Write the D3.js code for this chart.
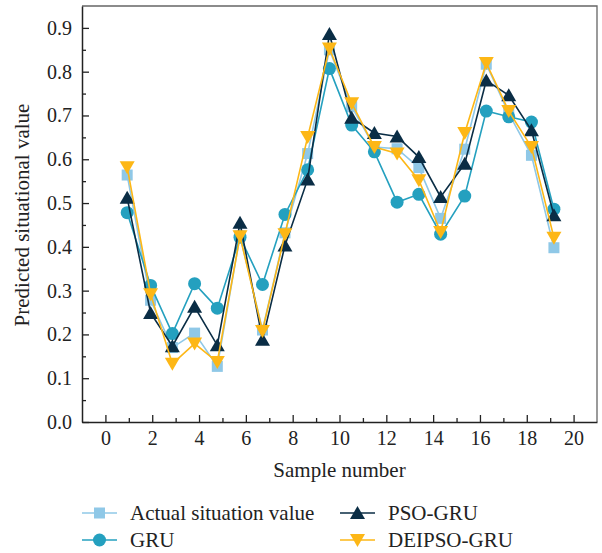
<!DOCTYPE html>
<html>
<head>
<meta charset="utf-8">
<script src="https://cdn.jsdelivr.net/npm/d3@7"></script>
<style>
  body { margin: 0; background: #fff; }
  svg { display: block; font-family: "Liberation Serif", "DejaVu Serif", serif; }
</style>
</head>
<body>
<div id="chart"></div>
<script>
// sample positions on the x axis
const samples = [0.93, 1.93, 2.86, 3.81, 4.78, 5.75, 6.71, 7.67, 8.64, 9.57,
                 10.52, 11.49, 12.46, 13.39, 14.32, 15.35, 16.27, 17.23, 18.2, 19.16];

const actualValues = [0.564, 0.278, 0.170, 0.203, 0.127, 0.425, 0.210, 0.432, 0.613, 0.850,
                      0.720, 0.628, 0.624, 0.581, 0.465, 0.623, 0.817, 0.705, 0.609, 0.398];
const gruValues    = [0.478, 0.312, 0.202, 0.316, 0.260, 0.422, 0.314, 0.474, 0.576, 0.807,
                      0.678, 0.617, 0.502, 0.520, 0.429, 0.516, 0.710, 0.697, 0.685, 0.486];
const psoValues    = [0.512, 0.249, 0.173, 0.263, 0.175, 0.455, 0.188, 0.403, 0.554, 0.886,
                      0.695, 0.660, 0.652, 0.605, 0.514, 0.590, 0.780, 0.746, 0.666, 0.472];
const deipsoValues = [0.582, 0.292, 0.133, 0.179, 0.137, 0.424, 0.208, 0.429, 0.651, 0.853,
                      0.728, 0.628, 0.613, 0.552, 0.434, 0.660, 0.820, 0.710, 0.628, 0.421];

const xTicks = [0, 2, 4, 6, 8, 10, 12, 14, 16, 18, 20];
const yTicks = [0, 0.1, 0.2, 0.3, 0.4, 0.5, 0.6, 0.7, 0.8, 0.9];

const series = [
  { name: "Actual situation value", values: actualValues, color: "#8fc8e7", marker: "square" },
  { name: "GRU",                    values: gruValues,    color: "#24a0bf", marker: "circle" },
  { name: "PSO-GRU",                values: psoValues,    color: "#0a2d45", marker: "up" },
  { name: "DEIPSO-GRU",             values: deipsoValues, color: "#fdb716", marker: "down" }
];

const W = 602, H = 553;
const margin = { top: 6, right: 5, bottom: 131, left: 82 };
const innerW = W - margin.left - margin.right;
const innerH = H - margin.top - margin.bottom;

const svg = d3.select("#chart").append("svg")
  .attr("width", W).attr("height", H);

const g = svg.append("g").attr("transform", `translate(${margin.left},${margin.top})`);

const x = d3.scaleLinear().domain([-1, 21]).range([0, innerW]);
const y = d3.scaleLinear().domain([0, 0.95]).range([innerH, 0]);

// frame (top / right in grey)
g.append("path")
  .attr("d", `M0,0H${innerW}V${innerH}`)
  .attr("fill", "none").attr("stroke", "#666").attr("stroke-width", 1.3);

// x axis, ticks pointing inward
g.append("g").attr("transform", `translate(0,${innerH})`)
  .call(d3.axisBottom(x).tickValues(xTicks).tickSize(-7).tickPadding(9).tickSizeOuter(0));
g.append("g").attr("transform", `translate(0,${innerH})`)
  .call(d3.axisBottom(x).tickValues(d3.range(1, 21, 2)).tickSize(-4).tickFormat("").tickSizeOuter(0))
  .select(".domain").remove();

// y axis
g.append("g")
  .call(d3.axisLeft(y).tickValues(yTicks).tickFormat(d3.format(".1f")).tickSize(-7).tickPadding(10).tickSizeOuter(0));
g.append("g")
  .call(d3.axisLeft(y).tickValues(d3.range(0.05, 0.95, 0.1)).tickSize(-4).tickFormat("").tickSizeOuter(0))
  .select(".domain").remove();

svg.selectAll(".tick line").attr("stroke", "#222").attr("stroke-width", 1.3);
svg.selectAll(".domain").attr("stroke", "#222").attr("stroke-width", 1.5);
svg.selectAll(".tick text").attr("fill", "#222").style("font-size", "20px")
  .style("font-family", "Liberation Serif, serif");

// axis titles
g.append("text")
  .attr("x", innerW / 2).attr("y", innerH + 55)
  .attr("text-anchor", "middle").attr("fill", "#222")
  .style("font-size", "21px").text("Sample number");

svg.append("text")
  .attr("transform", `translate(29,${margin.top + 209}) rotate(-90)`)
  .attr("text-anchor", "middle").attr("fill", "#222")
  .style("font-size", "21px").text("Predicted situational value");

// marker drawing
function drawMarker(sel, type, color) {
  if (type === "square") {
    sel.append("rect").attr("x", -5.5).attr("y", -5.5).attr("width", 11).attr("height", 11).attr("fill", color);
  } else if (type === "circle") {
    sel.append("circle").attr("r", 6.5).attr("fill", color);
  } else if (type === "up") {
    sel.append("path").attr("d", "M0,-7L7.5,6L-7.5,6Z").attr("fill", color);
  } else {
    sel.append("path").attr("d", "M0,7L7.5,-6L-7.5,-6Z").attr("fill", color);
  }
}

const line = d3.line().x(d => x(d[0])).y(d => y(d[1]));

series.forEach(s => {
  const pts = samples.map((sx, i) => [sx, s.values[i]]);
  const sg = g.append("g");
  sg.append("path").datum(pts)
    .attr("d", line).attr("fill", "none")
    .attr("stroke", s.color).attr("stroke-width", 1.6);
  sg.selectAll("g.pt").data(pts).enter().append("g")
    .attr("class", "pt")
    .attr("transform", d => `translate(${x(d[0])},${y(d[1])})`)
    .each(function () { drawMarker(d3.select(this), s.marker, s.color); });
});

// legend
const legendPos = [
  { x: 82, y: 513 }, { x: 82, y: 540 }, { x: 340, y: 513 }, { x: 340, y: 540 }
];
series.forEach((s, i) => {
  const p = legendPos[i];
  const lg = svg.append("g").attr("transform", `translate(${p.x},${p.y})`);
  lg.append("line").attr("x1", 0).attr("x2", 35).attr("y1", 0).attr("y2", 0)
    .attr("stroke", s.color).attr("stroke-width", 1.6);
  const m = lg.append("g").attr("transform", "translate(17.5,0)");
  drawMarker(m, s.marker, s.color);
  lg.append("text").attr("x", 48).attr("y", 0).attr("dy", "0.34em")
    .attr("fill", "#222").style("font-size", "21px").text(s.name);
});
</script>
</body>
</html>
